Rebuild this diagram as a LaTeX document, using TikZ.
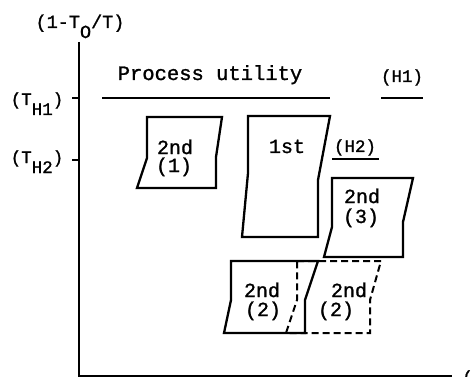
\documentclass[tikz,border=0pt]{standalone}
\usepackage{fontspec}
\setmonofont[FakeBold=1.2]{Liberation Mono}
\newcommand\lowsub[1]{\raisebox{-10pt}{#1}}
\begin{document}
\begin{tikzpicture}[x=1pt,y=-1pt,
  axisline/.style={line width=1.3pt},
  tickline/.style={line width=1.3pt},
  levelline/.style={line width=2pt},
  boxline/.style={line width=2.3pt, line join=miter},
  dashbox/.style={line width=2pt, dash pattern=on 7pt off 4pt},
  boxtxt/.style={font=\fontsize{20}{24}\selectfont\ttfamily, anchor=base, inner sep=0pt},
  lbl/.style={font=\fontsize{17.5}{21}\selectfont\ttfamily, anchor=base, inner sep=0pt},
  bigtxt/.style={font=\fontsize{20.5}{24}\selectfont\ttfamily, anchor=base, inner sep=0pt}]
\useasboundingbox (0,0) rectangle (471,377);
% axes
\coordinate (ytop) at (79,42);
\coordinate (orig) at (79,376);
\coordinate (xend) at (452,376);
\draw[axisline] (ytop) -- (orig) -- (xend);
\node[lbl, anchor=base west] (xlbl) at (462,383) {(};
% ticks
\coordinate (t1a) at (72,98); \coordinate (t1b) at (79,98);
\coordinate (t2a) at (72,160); \coordinate (t2b) at (79,160);
\draw[tickline] (t1a) -- (t1b);
\draw[tickline] (t2a) -- (t2b);
% axis labels
\node[lbl, font=\fontsize{18.5}{22}\selectfont\ttfamily] (ylbl) at (80,28) {(1-T\lowsub{O}/T)};
\node[lbl] (th1) at (37,105) {(T\lowsub{H1})};
\node[lbl] (th2) at (37,163) {(T\lowsub{H2})};
% process utility
\node[bigtxt] (pu) at (210,80) {Process utility};
\coordinate (pua) at (102,98); \coordinate (pub) at (330,98);
\draw[levelline] (pua) -- (pub);
\node[lbl] (h1) at (402,82) {(H1)};
\coordinate (h1a) at (381,98); \coordinate (h1b) at (423,98);
\draw[levelline] (h1a) -- (h1b);
\node[lbl] (h2) at (355,152) {(H2)};
\coordinate (h2a) at (332,159); \coordinate (h2b) at (379,159);
\draw[levelline] (h2a) -- (h2b);
% 2nd (1)
\draw[boxline] (147,117) -- (222,117) -- (216,157) -- (216,188) -- (137,188) -- (147,158) -- cycle;
\node[boxtxt] (s1a) at (175,154) {2nd};
\node[boxtxt] (s1b) at (174,172) {(1)};
% 1st
\draw[boxline] (248,116) -- (330,116) -- (318,180) -- (318,237) -- (242,237) -- (248,173) -- cycle;
\node[boxtxt] (f1) at (287,153) {1st};
% 2nd (3)
\draw[boxline] (332,178) -- (413,178) -- (403,222) -- (403,257) -- (324,257) -- (332,227) -- cycle;
\node[boxtxt] (s3a) at (362,203) {2nd};
\node[boxtxt] (s3b) at (361,223) {(3)};
% 2nd (2) dashed copy
\draw[dashbox] (297,261) -- (381,261) -- (370,300) -- (370,333) -- (286,333) -- (297,300) -- cycle;
% 2nd (2) solid
\draw[boxline] (231,261) -- (318,261) -- (305,300) -- (305,333) -- (224,333) -- (231,300) -- cycle;
\node[boxtxt] (s2a) at (262,297) {2nd};
\node[boxtxt] (s2b) at (263,316) {(2)};
\node[boxtxt] (s2c) at (349,297) {2nd};
\node[boxtxt] (s2d) at (336,316) {(2)};
\end{tikzpicture}
\end{document}
